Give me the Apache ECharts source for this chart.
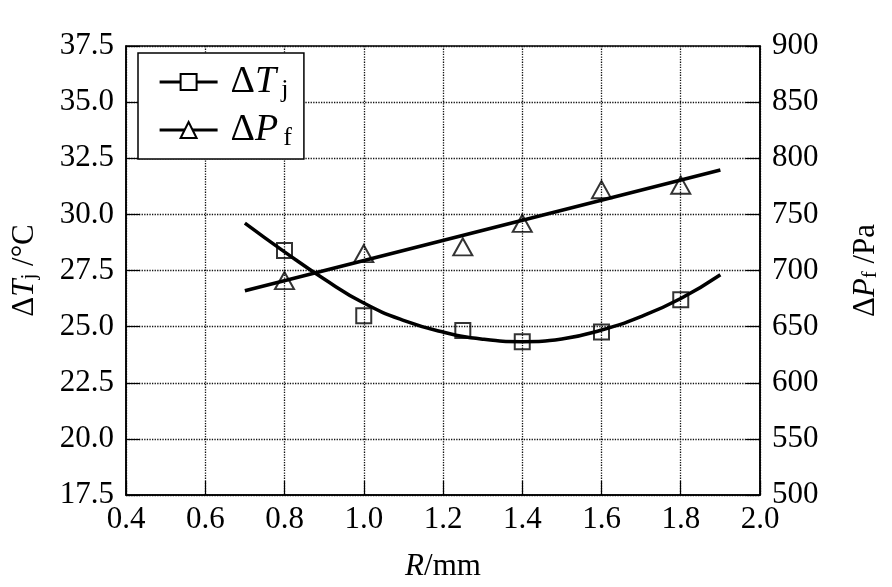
<!DOCTYPE html>
<html>
<head>
<meta charset="utf-8">
<script src="https://cdn.jsdelivr.net/npm/echarts@6/dist/echarts.min.js"></script>
<style>
html, body { margin: 0; padding: 0; background: #fff; }
#chart { width: 892px; height: 587px; }
</style>
</head>
<body>
<div id="chart"></div>
<script>
// measured points
var rPoints = [0.8, 1.0, 1.25, 1.4, 1.6, 1.8]
var tjPoints = [28.39, 25.48, 24.83, 24.33, 24.76, 26.2]
var pfPoints = [691, 715, 721, 742, 772, 776]

// fitted curves
var tjFitR = [0.7, 0.8, 0.9, 1.0, 1.1, 1.2, 1.3, 1.4, 1.5, 1.6, 1.7, 1.8, 1.9]
var tjFit = [29.61, 28.33, 27.12, 26.05, 25.28, 24.76, 24.44, 24.33, 24.45, 24.85, 25.45, 26.25, 27.31]
var pfFitR = [0.7, 1.9]
var pfFit = [682, 789.5]

function pairs(xs, ys) {
	return xs.map(function (x, i) { return [x, ys[i]] })
}

var font = 'Liberation Serif'
var black = '#000'

var nameRich = {
	d: { fontFamily: font, fontSize: 31, color: black },
	i: { fontFamily: font, fontSize: 31, fontStyle: 'italic', color: black },
	s: { fontFamily: font, fontSize: 21, color: black, verticalAlign: 'bottom', lineHeight: 18 },
	n: { fontFamily: font, fontSize: 31, color: black }
}

var myChart = echarts.init(document.getElementById('chart'))
myChart.setOption({
	backgroundColor: '#fff',
	animation: false,
	grid: {
		left: 126,
		right: 132,
		top: 46,
		bottom: 88,
		show: true,
		borderColor: black,
		borderWidth: 1.5
	},
	legend: {
		left: 138,
		top: 53,
		orient: 'vertical',
		backgroundColor: '#fff',
		borderColor: black,
		borderWidth: 1.5,
		padding: [10, 12, 8, 20],
		itemWidth: 58,
		itemHeight: 20,
		itemGap: 8,
		data: ['Tj', 'Pf'],
		lineStyle: { width: 3.2 },
		formatter: function (name) {
			return name === 'Tj' ? '{d|Δ}{i|T}{s|j}' : '{d|Δ}{i|P}{s|f}'
		},
		textStyle: {
			rich: {
				d: { fontFamily: font, fontSize: 38, color: black, lineHeight: 42, padding: [0, 0, 0, 8] },
				i: { fontFamily: font, fontSize: 38, fontStyle: 'italic', color: black, lineHeight: 42 },
				s: { fontFamily: font, fontSize: 26, color: black, verticalAlign: 'bottom', lineHeight: 20, padding: [0, 0, 0, 5] }
			}
		}
	},
	xAxis: {
		type: 'value',
		min: 0.4,
		max: 2.0,
		interval: 0.2,
		name: '{i|R}{n|/mm}',
		nameLocation: 'middle',
		nameGap: 56,
		nameTextStyle: { rich: nameRich },
		axisLine: { lineStyle: { color: black, width: 1.5 } },
		axisTick: { inside: true, length: 14, lineStyle: { color: black, width: 1.2 } },
		axisLabel: {
			margin: 9,
			fontFamily: font,
			fontSize: 31,
			color: black,
			formatter: function (v) { return v.toFixed(1) }
		},
		splitLine: { show: true, lineStyle: { type: 'dotted', color: '#111', width: 1.3 } }
	},
	yAxis: [
		{
			type: 'value',
			min: 17.5,
			max: 37.5,
			interval: 2.5,
			name: '{d|Δ}{i|T}{s|j}{n| /°C}',
			nameLocation: 'middle',
			nameRotate: 90,
			nameGap: 86,
			nameTextStyle: { rich: nameRich },
			axisLine: { show: true, lineStyle: { color: black, width: 1.5 } },
			axisTick: { show: true, inside: true, length: 14, lineStyle: { color: black, width: 1.2 } },
			axisLabel: {
				margin: 12,
				fontFamily: font,
				fontSize: 31,
				color: black,
				formatter: function (v) { return v.toFixed(1) }
			},
			splitLine: { show: true, lineStyle: { type: 'dotted', color: '#111', width: 1.3 } }
		},
		{
			type: 'value',
			min: 500,
			max: 900,
			interval: 50,
			position: 'right',
			name: '{d|Δ}{i|P}{s|f}{n| /Pa}',
			nameLocation: 'middle',
			nameRotate: 90,
			nameGap: 90,
			nameTextStyle: { rich: nameRich },
			axisLine: { show: true, lineStyle: { color: black, width: 1.5 } },
			axisTick: { show: true, inside: true, length: 14, lineStyle: { color: black, width: 1.2 } },
			axisLabel: {
				margin: 12,
				fontFamily: font,
				fontSize: 31,
				color: black
			},
			splitLine: { show: false }
		}
	],
	series: [
		{
			name: 'Tj',
			type: 'line',
			yAxisIndex: 0,
			data: pairs(tjFitR, tjFit),
			smooth: 0.5,
			showSymbol: false,
			symbol: 'rect',
			lineStyle: { color: black, width: 3.5 },
			itemStyle: { color: '#fff', borderColor: black, borderWidth: 2 },
			z: 3
		},
		{
			name: 'Pf',
			type: 'line',
			yAxisIndex: 1,
			data: pairs(pfFitR, pfFit),
			showSymbol: false,
			symbol: 'triangle',
			lineStyle: { color: black, width: 3.5 },
			itemStyle: { color: '#fff', borderColor: black, borderWidth: 2 },
			z: 3
		},
		{
			name: 'Tj pts',
			type: 'scatter',
			yAxisIndex: 0,
			data: pairs(rPoints, tjPoints),
			symbol: 'rect',
			symbolSize: 15,
			itemStyle: { color: 'rgba(0,0,0,0)', borderColor: black, borderWidth: 2 },
			z: 4
		},
		{
			name: 'Pf pts',
			type: 'scatter',
			yAxisIndex: 1,
			data: pairs(rPoints, pfPoints),
			symbol: 'triangle',
			symbolSize: [19, 17],
			itemStyle: { color: 'rgba(0,0,0,0)', borderColor: black, borderWidth: 2 },
			z: 4
		}
	]
})
</script>
</body>
</html>
